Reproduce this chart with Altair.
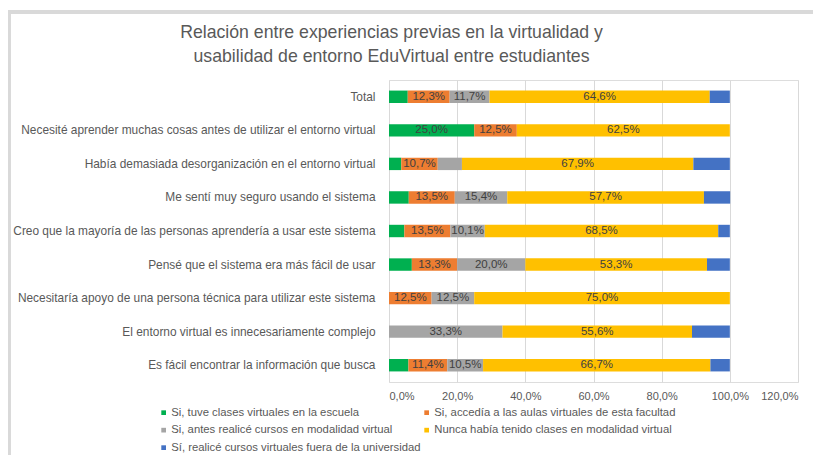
import altair as alt
import pandas as pd

categories = [
    "Total",
    "Necesité aprender muchas cosas antes de utilizar el entorno virtual",
    "Había demasiada desorganización en el entorno virtual",
    "Me sentí muy seguro usando el sistema",
    "Creo que la mayoría de las personas aprendería a usar este sistema",
    "Pensé que el sistema era más fácil de usar",
    "Necesitaría apoyo de una persona técnica para utilizar este sistema",
    "El entorno virtual es innecesariamente complejo",
    "Es fácil encontrar la información que busca",
]

series_names = [
    "Si, tuve clases virtuales en la escuela",
    "Si, accedía a las aulas virtuales de esta facultad",
    "Si, antes realicé cursos en modalidad virtual",
    "Nunca había tenido clases en modalidad virtual",
    "Sí, realicé cursos virtuales fuera de la universidad",
]
series_colors = ["#00b050", "#ed7d31", "#a5a5a5", "#ffc000", "#4472c4"]

green = [5.5, 25.0, 3.6, 5.8, 4.5, 6.7, 0.0, 0.0, 5.7]
orange = [12.3, 12.5, 10.7, 13.5, 13.5, 13.3, 12.5, 0.0, 11.4]
gray = [11.7, 0.0, 7.1, 15.4, 10.1, 20.0, 12.5, 33.3, 10.5]
yellow = [64.6, 62.5, 67.9, 57.7, 68.5, 53.3, 75.0, 55.6, 66.7]
blue = [5.9, 0.0, 10.7, 7.7, 3.4, 6.7, 0.0, 11.1, 5.7]

x_ticks = [0, 20, 40, 60, 80, 100, 120]

values = [green, orange, gray, yellow, blue]
rows = []
for i, cat in enumerate(categories):
    start = 0.0
    for s, name in enumerate(series_names):
        v = values[s][i]
        if v > 0:
            show = (v >= 10) and s != 4
            rows.append({
                "cat": cat, "serie": name, "order": s, "v": v,
                "start": start, "end": start + v, "mid": start + v / 2,
                "label": (f"{v:.1f}".replace(".", ",") + "%") if show else "",
            })
        start += v
df = pd.DataFrame(rows)

FONT = "Liberation Sans"
TXT = "#595959"
FRAME = "#d9d9d9"

y_enc = alt.Y("cat:N", sort=categories, title=None,
              scale=alt.Scale(paddingInner=0.63, paddingOuter=0.315),
              axis=alt.Axis(domain=False, ticks=False, labelPadding=14,
                            labelFontSize=11.9, labelColor=TXT, labelFont=FONT,
                            labelLimit=420))
x_scale = alt.Scale(domain=[0, 120], nice=False)

bars = alt.Chart(df).mark_bar().encode(
    x=alt.X("start:Q", scale=x_scale, title=None,
            axis=alt.Axis(values=x_ticks, domain=False, ticks=False,
                          gridColor="#d9d9d9", labelPadding=8,
                          labelFontSize=11, labelColor=TXT, labelFont=FONT,
                          labelExpr="replace(format(datum.value, '.1f'), '.', ',') + '%'")),
    x2="end:Q",
    y=y_enc,
    color=alt.Color("serie:N", sort=series_names,
                    scale=alt.Scale(domain=series_names, range=series_colors),
                    legend=alt.Legend(title=None, orient="none", legendX=-231, legendY=327,
                                      direction="horizontal",
                                      columns=2, symbolType="square", symbolSize=22,
                                      symbolStrokeWidth=0, labelFontSize=11.3,
                                      labelColor=TXT, labelFont=FONT, labelLimit=400,
                                      columnPadding=-7, rowPadding=5.5, labelOffset=2)),
    order=alt.Order("order:Q"),
)

texts = alt.Chart(df).mark_text(fontSize=11.5, color="#404040", font=FONT).encode(
    x=alt.X("mid:Q", scale=x_scale),
    y=alt.Y("cat:N", sort=categories),
    text="label:N",
)

frame_left = alt.Chart(df).mark_rule(color=FRAME, strokeWidth=3).encode(
    x=alt.value(-380), y=alt.value(-70), y2=alt.value(380))
frame_top = alt.Chart(df).mark_rule(color=FRAME, strokeWidth=4).encode(
    x=alt.value(-381), x2=alt.value(424), y=alt.value(-68))

chart = alt.layer(frame_left, frame_top, bars, texts).properties(
    width=409, height=302,
    padding={"left": 381, "top": 72, "right": 15, "bottom": 73},
    autosize=alt.AutoSizeParams(type="none"),
    title=alt.TitleParams(
        ["Relación entre experiencias previas en la virtualidad y",
         "usabilidad de entorno EduVirtual entre estudiantes"],
        fontSize=17.7, color=TXT, font=FONT, fontWeight="normal",
        anchor="middle", frame="group", dx=-202, dy=70, offset=13, lineHeight=24),
).configure_view(stroke=None).configure(background="white")

chart.save("out.html", embed_options={"renderer": "svg", "actions": False})
